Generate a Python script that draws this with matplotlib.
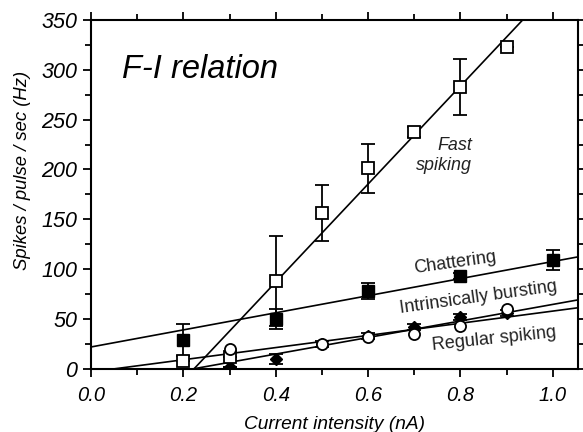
import matplotlib
matplotlib.use("Agg")
import matplotlib.pyplot as plt
import numpy as np
from matplotlib.ticker import MultipleLocator

plt.rcParams['font.family'] = ['Liberation Sans', 'DejaVu Sans']

# Fast spiking (open squares)
fs_x = [0.2, 0.3, 0.4, 0.5, 0.6, 0.7, 0.8, 0.9]
fs_y = [8, 12, 88, 156, 201, 238, 283, 323]
fs_err = [0, 0, 45, 28, 25, 5, 28, 0]
# Chattering (filled squares)
ch_x = [0.2, 0.4, 0.6, 0.8, 1.0]
ch_y = [29, 50, 78, 93, 109]
ch_err = [16, 10, 8, 3, 10]
# Intrinsically bursting (filled diamonds)
ib_x = [0.3, 0.4, 0.5, 0.6, 0.7, 0.8, 0.9]
ib_y = [2, 10, 25, 33, 42, 52, 56]
ib_err = [0, 5, 3, 3, 3, 3, 3]
# Regular spiking (open circles)
rs_x = [0.3, 0.5, 0.6, 0.7, 0.8, 0.9]
rs_y = [20, 25, 32, 35, 43, 60]

# Linear fits: slope, intercept
fit_names = ["Fast spiking", "Chattering", "Intrinsically bursting", "Regular spiking"]
fit_slope = [491.6, 85.7, 83.0, 61.0]
fit_icpt = [-109.6, 22.0, -18.3, -3.0]

fig = plt.figure(figsize=(5.83, 4.32), dpi=100)
ax = fig.add_axes([0.156, 0.146, 0.835, 0.808])
ax.set_xlim(0, 1.054)
ax.set_ylim(0, 350)

xx = np.array([0.0, 1.054])
for s, b in zip(fit_slope, fit_icpt):
    ax.plot(xx, s * xx + b, color='black', lw=1.2, zorder=2)

ekw = dict(ecolor='black', elinewidth=1.3, capsize=5, capthick=1.3, ls='none', zorder=3)
ax.errorbar(ch_x, ch_y, yerr=ch_err, fmt='s', mfc='black', mec='black', ms=8, **ekw)
ax.errorbar(ib_x, ib_y, yerr=ib_err, fmt='D', mfc='black', mec='black', ms=6.5, **ekw)
ax.errorbar(rs_x, rs_y, fmt='o', mfc='white', mec='black', mew=1.3, ms=8, ls='none', zorder=4)
ax.errorbar(fs_x, fs_y, yerr=fs_err, fmt='s', mfc='white', mec='black', mew=1.3, ms=8, **ekw)

ax.xaxis.set_major_locator(MultipleLocator(0.2))
ax.xaxis.set_minor_locator(MultipleLocator(0.1))
ax.yaxis.set_major_locator(MultipleLocator(50))
ax.yaxis.set_minor_locator(MultipleLocator(25))
ax.xaxis.set_major_formatter(matplotlib.ticker.FormatStrFormatter('%.1f'))
ax.tick_params(which='both', direction='out', top=True, right=True, width=1.3)
ax.tick_params(which='major', length=6)
ax.tick_params(axis='x', which='major', labelsize=14.5, pad=6)
ax.tick_params(axis='y', which='major', labelsize=15.5, pad=4)
ax.tick_params(which='minor', length=4)
for lab in ax.get_xticklabels() + ax.get_yticklabels():
    lab.set_fontstyle('italic')
for sp in ax.spines.values():
    sp.set_linewidth(1.5)

ax.set_xlabel('Current intensity (nA)', fontsize=13.8, fontstyle='italic', labelpad=8)
ax.set_ylabel('Spikes / pulse / sec (Hz)', fontsize=13.3, fontstyle='italic')
ax.yaxis.set_label_coords(-0.123, 0.57)

ax.text(0.067, 300, 'F-I relation', fontsize=23.5, fontstyle='italic', va='center', ha='left')
ax.text(0.825, 214, 'Fast\nspiking', fontsize=12.9, fontstyle='italic', ha='right', va='center',
        color='#222222', linespacing=1.3)
ax.text(0.788, 106, 'Chattering', fontsize=13, ha='center', va='center', rotation=8, color='#222222')
ax.text(0.838, 72, 'Intrinsically bursting', fontsize=13, ha='center', va='center', rotation=8,
        color='#222222')
ax.text(0.874, 30, 'Regular spiking', fontsize=13, ha='center', va='center', rotation=6,
        color='#222222')

fig.savefig('out.png', dpi=100)
